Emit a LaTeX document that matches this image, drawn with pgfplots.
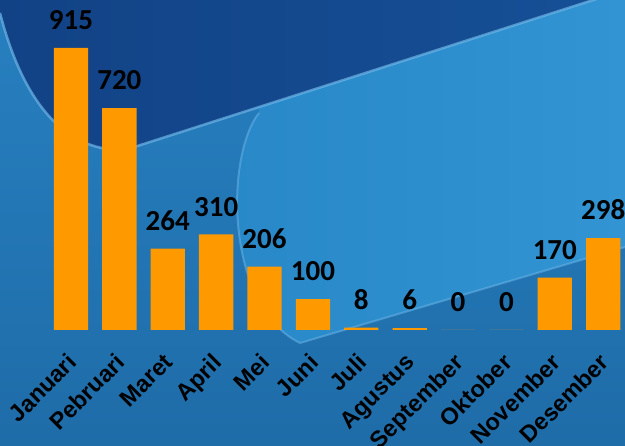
\documentclass[border=0pt]{standalone}
\usepackage{pgfplots}
\pgfplotsset{compat=1.18}
\usepackage{fontspec}
\setmainfont{Liberation Sans}
\newfontfamily\valfont{Carlito}
\definecolor{barorange}{RGB}{255,153,0}
\definecolor{bgtop}{RGB}{40,128,192}
\definecolor{bgbot}{RGB}{30,108,168}
\definecolor{bgdark}{RGB}{18,66,134}
\definecolor{bgdark2}{RGB}{22,80,150}
\definecolor{bglight}{RGB}{40,136,200}
\definecolor{bglight2}{RGB}{50,148,210}
\definecolor{bgline}{RGB}{110,182,232}
\begin{document}
\begin{tikzpicture}[x=1pt,y=1pt]
\clip (0,0) rectangle (625,446);
\shade[top color=bgtop, bottom color=bgbot] (0,0) rectangle (625,446);
% lighter rounded region
\shade[left color=bglight, right color=bglight2]
  (259,333) .. controls (225,290) and (225,140) .. (300,103) -- (625,199) -- (625,446) -- (259,446) -- cycle;
\draw[bgline, line width=2pt, opacity=0.5]
  (259,333) .. controls (225,290) and (225,140) .. (300,103) -- (625,199);
% dark region
\shade[left color=bgdark, right color=bgdark2]
  (0,433) .. controls (25,336) and (70,294) .. (125,296) -- (612,452) -- (0,452) -- cycle;
\draw[bgline, line width=2.5pt, opacity=0.7]
  (0,433) .. controls (25,336) and (70,294) .. (125,296) -- (612,452);
\begin{axis}[
  at={(46.8pt,116pt)}, anchor=south west,
  scale only axis, width=578.2pt, height=308.2pt,
  xmin=-0.5, xmax=11.45, ymin=0, ymax=1000,
  axis line style={draw=none},
  major tick length=0pt,
  ytick=\empty,
  xtick=data,
  xticklabels={Januari,Pebruari,Maret,April,Mei,Juni,Juli,Agustus,September,Oktober,November,Desember},
  xticklabel style={yshift=-22pt, xshift=-5pt, rotate=45, anchor=north east, inner sep=0pt,
    font=\bfseries\fontsize{23.5}{24}\selectfont},
  ybar, bar width=34.3pt,
  /pgf/number format/assume math mode=true,
  nodes near coords,
  nodes near coords style={font=\valfont\bfseries\fontsize{29}{30}\selectfont,
    anchor=south, inner sep=0pt, yshift=18pt, text=black},
  clip=false,
]
\addplot[fill=barorange, draw=none] coordinates {
  (0,915) (1,720) (2,264) (3,310) (4,206) (5,100)
  (6,8) (7,6) (8,0) (9,0) (10,170) (11,298)};
\end{axis}
\end{tikzpicture}
\end{document}
